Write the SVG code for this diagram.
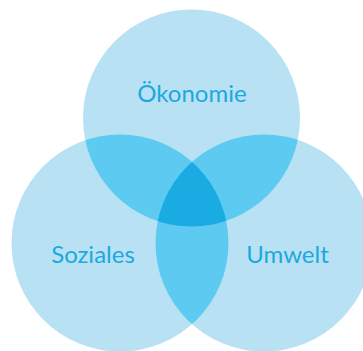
<svg xmlns="http://www.w3.org/2000/svg" width="363" height="351" viewBox="0 0 363 351">
<style>
.c{fill:#b8e2f3}
.two{fill:#5ccaf1}
.three{fill:#1aabe2}
.t{font-family:Lato,"Open Sans","Liberation Sans",sans-serif;font-size:24px;fill:#1ca8e1;text-anchor:middle}
</style>
<defs>
<clipPath id="cpTop"><circle cx="191.5" cy="118" r="108.5"/></clipPath>
<clipPath id="cpLeft"><circle cx="120" cy="243" r="108.5"/></clipPath>
<clipPath id="cpRight"><circle cx="264" cy="243" r="108.5"/></clipPath>
</defs>
<rect width="363" height="351" fill="#ffffff"/>
<g id="oekonomie">
<circle class="c" cx="191.5" cy="118" r="108.5"/>
</g>
<g id="soziales">
<circle class="c" cx="120" cy="243" r="108.5"/>
</g>
<g id="umwelt">
<circle class="c" cx="264" cy="243" r="108.5"/>
</g>
<g id="overlaps">
<circle class="two" cx="120" cy="243" r="108.5" clip-path="url(#cpTop)"/>
<circle class="two" cx="264" cy="243" r="108.5" clip-path="url(#cpTop)"/>
<circle class="two" cx="264" cy="243" r="108.5" clip-path="url(#cpLeft)"/>
<g clip-path="url(#cpTop)"><circle class="three" cx="264" cy="243" r="108.5" clip-path="url(#cpLeft)"/></g>
</g>
<g id="labels">
<text class="t" x="192" y="102">Ökonomie</text>
<text class="t" x="93" y="263">Soziales</text>
<text class="t" x="287.5" y="263">Umwelt</text>
</g>
</svg>
